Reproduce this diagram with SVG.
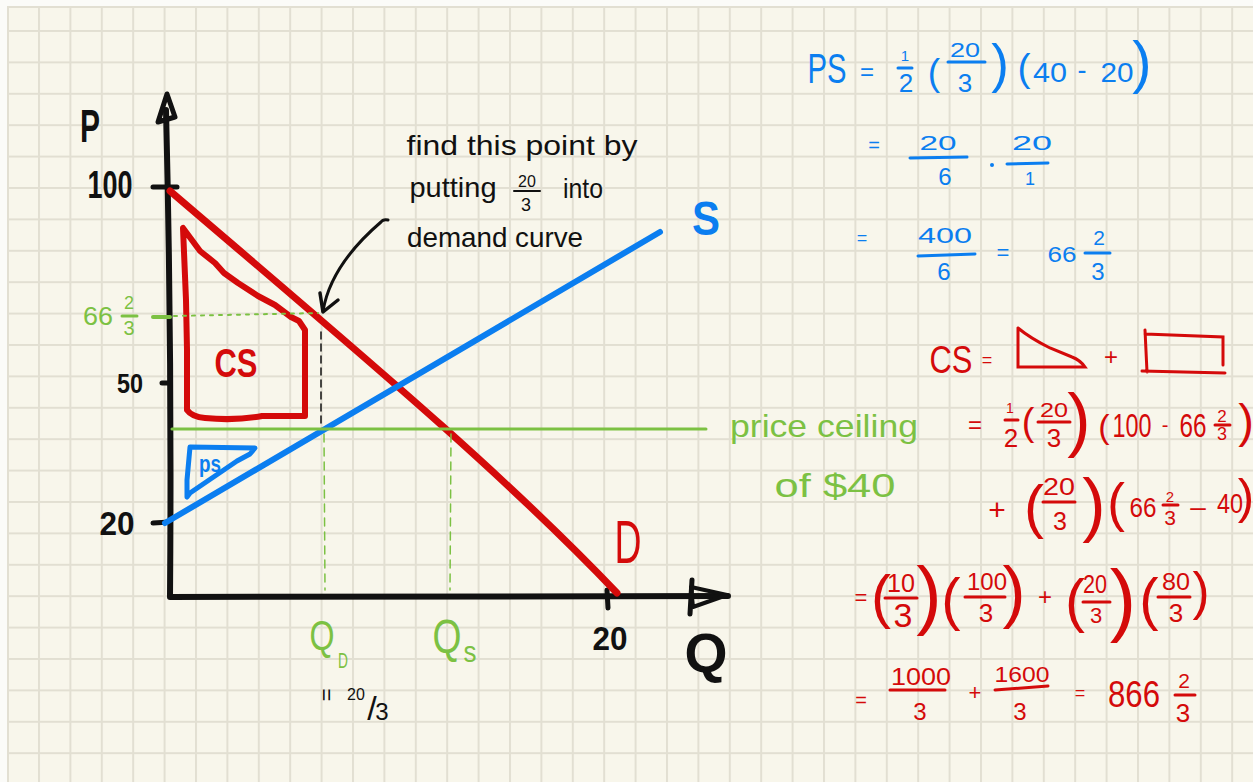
<svg xmlns="http://www.w3.org/2000/svg" width="1253" height="782" viewBox="0 0 1253 782">
<defs>
<pattern id="grid" x="38" y="30" width="31.4" height="31.4" patternUnits="userSpaceOnUse">
<path d="M0 1H31.4M1 0V31.4" stroke="#e2dfd2" stroke-width="2" fill="none"/>
</pattern>
<style>
text{font-family:"Liberation Sans",Arial,sans-serif;text-anchor:middle}
.r{fill:#d40a0a}.b{fill:#0b7ef0}.g{fill:#7cc143}.k{fill:#111}
.bd{font-weight:bold}
.rl{stroke:#d40a0a;stroke-width:3;stroke-linecap:round;fill:none}
.bl{stroke:#0b7ef0;stroke-width:3;stroke-linecap:round;fill:none}
.gl{stroke:#7cc143;stroke-linecap:round;fill:none}
.kl{stroke:#111;stroke-linecap:round;stroke-linejoin:round;fill:none}
</style>
</defs>
<rect width="1253" height="782" fill="#fbfbf8"/>
<rect x="7" y="6" width="1246" height="776" fill="#f8f6eb"/>
<rect x="7" y="6" width="1246" height="776" fill="url(#grid)"/>
<path d="M7 7H1253M8 6V782" stroke="#e2dfd2" stroke-width="2"/>

<g id="axes">
<path class="kl" d="M166,110 Q172,350 170,597 L728,596" stroke-width="6"/>
<path class="kl" d="M158,122 L167,94 L175,117 Z" stroke-width="5" fill="#111"/>
<path class="kl" d="M727,595 L691,587 L693,607 Z" stroke-width="4" fill="#111"/>
<path class="kl" d="M692,580 L690,614" stroke-width="5"/>
<path class="kl" d="M153,187 L177,187 M162,383 L168,383 M153,523 L170,522 M607,590 L608,608" stroke-width="5"/>
<text class="k bd" x="90" y="142" font-size="46" textLength="20" lengthAdjust="spacingAndGlyphs">P</text>
<text class="k bd" x="110" y="198" font-size="38" textLength="45" lengthAdjust="spacingAndGlyphs">100</text>
<text class="k bd" x="130" y="393" font-size="28" textLength="26" lengthAdjust="spacingAndGlyphs">50</text>
<text class="k bd" x="117" y="535" font-size="34" textLength="35" lengthAdjust="spacingAndGlyphs">20</text>
<text class="k bd" x="610" y="650" font-size="34" textLength="35" lengthAdjust="spacingAndGlyphs">20</text>
<text class="k bd" x="706" y="672" font-size="56" textLength="43" lengthAdjust="spacingAndGlyphs">Q</text>
</g>

<g id="cs-area">
<path d="M183,228 L186,300 L187,350 L187,410 Q192,417 205,418 Q235,421 262,416 L305,416 L305,330 L299,321 L291,317 L275,305 L258,296 L238,283 L224,273 L215,263 L200,251 Z" stroke="#d40a0a" stroke-width="6" stroke-linejoin="round" fill="none"/>
<text class="r bd" x="236" y="377" font-size="40" textLength="43" lengthAdjust="spacingAndGlyphs">CS</text>
</g>

<g id="ps-area">
<path d="M190,447 L255,448 L250,454 L237,461 L190,493 L187,497 L187,480 Z" stroke="#0b7ef0" stroke-width="5" stroke-linejoin="round" fill="none"/>
<text class="b bd" x="210" y="472" font-size="24" textLength="22" lengthAdjust="spacingAndGlyphs">ps</text>
</g>

<g id="demand">
<path d="M170,191 C350,345 500,470 617,593" stroke="#d40a0a" stroke-width="7" stroke-linecap="round" fill="none"/>
<text class="r" x="628" y="563" font-size="62" textLength="27" lengthAdjust="spacingAndGlyphs">D</text>
</g>

<g id="supply">
<path d="M165,523 L660,232" stroke="#0b7ef0" stroke-width="6" stroke-linecap="round" fill="none"/>
<text class="b bd" x="706" y="235" font-size="49" textLength="28" lengthAdjust="spacingAndGlyphs">S</text>
</g>

<g id="price-ceiling">
<path class="gl" d="M172,429 L706,429" stroke-width="3"/>
<path class="gl" d="M153,317 L170,317" stroke-width="4"/>
<path class="gl" d="M174,316 L318,313" stroke-width="2" stroke-dasharray="3 6"/>
<text class="g" x="98" y="325" font-size="25" textLength="30" lengthAdjust="spacingAndGlyphs">66</text>
<text class="g" x="129" y="309" font-size="18">2</text>
<path class="gl" d="M122,316 L137,316" stroke-width="3"/>
<text class="g" x="129" y="335" font-size="20">3</text>
<text class="g" x="824" y="437" font-size="32" textLength="188" lengthAdjust="spacingAndGlyphs">price ceiling</text>
<text class="g" x="835" y="497" font-size="33" textLength="121" lengthAdjust="spacingAndGlyphs">of $40</text>
</g>

<g id="quantities">
<path class="gl" d="M324,434 L325,590 M451,434 L450,590" stroke-width="1.5" stroke-dasharray="8 6"/>
<path class="kl" d="M321,332 L321,424" stroke-width="1.5" stroke-dasharray="7 5"/>
<text class="g" x="322" y="650" font-size="42" textLength="25" lengthAdjust="spacingAndGlyphs">Q</text>
<text class="g" x="343" y="668" font-size="22" textLength="10" lengthAdjust="spacingAndGlyphs">D</text>
<text class="g" x="447" y="653" font-size="48" textLength="29" lengthAdjust="spacingAndGlyphs">Q</text>
<text class="g" x="470" y="662" font-size="30" textLength="13" lengthAdjust="spacingAndGlyphs">s</text>
<text class="k" x="0" y="0" font-size="22" transform="translate(326,695) rotate(90)" dy="7">=</text>
<text class="k" x="356" y="700" font-size="16">20</text>
<text class="k" x="372" y="720" font-size="34">/</text>
<text class="k" x="382" y="720" font-size="24">3</text>
</g>

<g id="annotation">
<text class="k" x="522" y="155" font-size="28" textLength="231" lengthAdjust="spacingAndGlyphs">find this point by</text>
<text class="k" x="453" y="197" font-size="28" textLength="87" lengthAdjust="spacingAndGlyphs">putting</text>
<text class="k" x="527" y="187" font-size="16">20</text>
<path class="kl" d="M514,191 L540,191" stroke-width="2"/>
<text class="k" x="526" y="211" font-size="18">3</text>
<text class="k" x="583" y="198" font-size="28" textLength="40" lengthAdjust="spacingAndGlyphs">into</text>
<text class="k" x="495" y="247" font-size="28" textLength="176" lengthAdjust="spacingAndGlyphs">demand curve</text>
</g>

<g id="connectors">
<path class="kl" d="M388,220 Q383,219 381,222 C360,240 330,270 323,311" stroke-width="3"/>
<path class="kl" d="M320,293 L323,312 L338,300" stroke-width="3.5"/>
</g>

<g id="ps-calc">
<text class="b" x="827" y="83" font-size="42" textLength="39" lengthAdjust="spacingAndGlyphs">PS</text>
<text class="b" x="867" y="80" font-size="24">=</text>
<text class="b" x="905" y="61" font-size="15">1</text>
<path class="bl" d="M898,68 L912,68"/>
<text class="b" x="906" y="92" font-size="26">2</text>
<text class="b" x="934" y="85" font-size="37">(</text>
<text class="b" x="965" y="57" font-size="20" textLength="30" lengthAdjust="spacingAndGlyphs">20</text>
<path class="bl" d="M948,62 L985,62"/>
<text class="b" x="965" y="92" font-size="26">3</text>
<text class="b" x="1000" y="82" font-size="53">)</text>
<text class="b" x="1024" y="81" font-size="39">(</text>
<text class="b" x="1050" y="82" font-size="27" textLength="34" lengthAdjust="spacingAndGlyphs">40</text>
<text class="b" x="1082" y="79" font-size="27">-</text>
<text class="b" x="1117" y="82" font-size="27" textLength="33" lengthAdjust="spacingAndGlyphs">20</text>
<text class="b" x="1142" y="82" font-size="58">)</text>

<text class="b" x="874" y="152" font-size="20">=</text>
<text class="b" x="938" y="150" font-size="20" textLength="37" lengthAdjust="spacingAndGlyphs">20</text>
<path class="bl" d="M910,158 L967,157"/>
<text class="b" x="945" y="185" font-size="24">6</text>
<circle cx="992" cy="165" r="2" fill="#0b7ef0"/>
<text class="b" x="1032" y="150" font-size="20" textLength="40" lengthAdjust="spacingAndGlyphs">20</text>
<path class="bl" d="M1007,164 L1048,163"/>
<text class="b" x="1030" y="185" font-size="18">1</text>

<text class="b" x="862" y="244" font-size="18">=</text>
<text class="b" x="945" y="243" font-size="22" textLength="54" lengthAdjust="spacingAndGlyphs">400</text>
<path class="bl" d="M918,256 L975,254"/>
<text class="b" x="944" y="280" font-size="24">6</text>
<text class="b" x="1003" y="260" font-size="22">=</text>
<text class="b" x="1062" y="262" font-size="22" textLength="29" lengthAdjust="spacingAndGlyphs">66</text>
<text class="b" x="1099" y="245" font-size="21">2</text>
<path class="bl" d="M1085,253 L1110,253"/>
<text class="b" x="1098" y="280" font-size="24">3</text>
</g>

<g id="cs-calc">
<text class="r" x="951" y="373" font-size="39" textLength="43" lengthAdjust="spacingAndGlyphs">CS</text>
<text class="r" x="987" y="366" font-size="18">=</text>
<path class="rl" d="M1018,328 L1018,367 L1085,367 Q1080,360 1072,357 L1050,348 Q1030,338 1018,328"/>
<text class="r" x="1111" y="365" font-size="24">+</text>
<path class="rl" d="M1145,330 L1147,372 M1145,334 L1223,337 L1223,365 M1142,371 L1225,373"/>

<text class="r" x="975" y="433" font-size="24">=</text>
<text class="r" x="1010" y="413" font-size="14">1</text>
<path class="rl" d="M1005,420 L1018,420"/>
<text class="r" x="1011" y="447" font-size="26">2</text>
<text class="r" x="1028" y="435" font-size="38">(</text>
<text class="r" x="1054" y="417" font-size="20" textLength="28" lengthAdjust="spacingAndGlyphs">20</text>
<path class="rl" d="M1038,422 L1070,422"/>
<text class="r" x="1054" y="447" font-size="26">3</text>
<text class="r" x="1079" y="443" font-size="70">)</text>
<text class="r" x="1104" y="438" font-size="34">(</text>
<text class="r" x="1132" y="437" font-size="33" textLength="39" lengthAdjust="spacingAndGlyphs">100</text>
<text class="r" x="1165" y="432" font-size="20">-</text>
<text class="r" x="1193" y="437" font-size="33" textLength="27" lengthAdjust="spacingAndGlyphs">66</text>
<text class="r" x="1222" y="422" font-size="17">2</text>
<path class="rl" d="M1215,425 L1230,425"/>
<text class="r" x="1222" y="440" font-size="18">3</text>
<text class="r" x="1246" y="437" font-size="47">)</text>

<text class="r" x="997" y="520" font-size="30">+</text>
<text class="r" x="1034" y="527" font-size="60">(</text>
<text class="r" x="1059" y="495" font-size="24" textLength="32" lengthAdjust="spacingAndGlyphs">20</text>
<path class="rl" d="M1043,502 L1075,502"/>
<text class="r" x="1060" y="530" font-size="25">3</text>
<text class="r" x="1094" y="528" font-size="70">)</text>
<text class="r" x="1116" y="521" font-size="53">(</text>
<text class="r" x="1143" y="517" font-size="28" textLength="27" lengthAdjust="spacingAndGlyphs">66</text>
<text class="r" x="1170" y="502" font-size="15">2</text>
<path class="rl" d="M1163,505 L1178,505"/>
<text class="r" x="1170" y="525" font-size="21">3</text>
<text class="r" x="1198" y="516" font-size="28">–</text>
<text class="r" x="1230" y="513" font-size="28" textLength="26" lengthAdjust="spacingAndGlyphs">40</text>
<text class="r" x="1246" y="513" font-size="49">)</text>

<text class="r" x="861" y="605" font-size="22">=</text>
<text class="r" x="881" y="617" font-size="60">(</text>
<text class="r" x="901" y="592" font-size="26" textLength="28" lengthAdjust="spacingAndGlyphs">10</text>
<path class="rl" d="M885,598 L917,598"/>
<text class="r" x="903" y="627" font-size="34">3</text>
<text class="r" x="929" y="620" font-size="76">)</text>
<text class="r" x="951" y="619" font-size="58">(</text>
<text class="r" x="987" y="590" font-size="24" textLength="40" lengthAdjust="spacingAndGlyphs">100</text>
<path class="rl" d="M965,597 L1005,597"/>
<text class="r" x="986" y="622" font-size="26">3</text>
<text class="r" x="1014" y="615" font-size="69">)</text>
<text class="r" x="1045" y="605" font-size="24">+</text>
<text class="r" x="1075" y="621" font-size="60">(</text>
<text class="r" x="1095" y="593" font-size="25" textLength="24" lengthAdjust="spacingAndGlyphs">20</text>
<path class="rl" d="M1083,602 L1110,602"/>
<text class="r" x="1096" y="623" font-size="22">3</text>
<text class="r" x="1123" y="626" font-size="79">)</text>
<text class="r" x="1149" y="619" font-size="58">(</text>
<text class="r" x="1176" y="590" font-size="24" textLength="28" lengthAdjust="spacingAndGlyphs">80</text>
<path class="rl" d="M1158,597 L1190,597"/>
<text class="r" x="1176" y="622" font-size="26">3</text>
<text class="r" x="1201" y="609" font-size="51">)</text>

<text class="r" x="861" y="707" font-size="20">=</text>
<text class="r" x="921" y="685" font-size="24" textLength="60" lengthAdjust="spacingAndGlyphs">1000</text>
<path class="rl" d="M890,690 L945,690"/>
<text class="r" x="920" y="720" font-size="24">3</text>
<text class="r" x="975" y="700" font-size="22">+</text>
<text class="r" x="1022" y="682" font-size="22" textLength="55" lengthAdjust="spacingAndGlyphs">1600</text>
<path class="rl" d="M995,690 L1048,686"/>
<text class="r" x="1020" y="720" font-size="24">3</text>
<text class="r" x="1080" y="699" font-size="18">=</text>
<text class="r" x="1134" y="707" font-size="37" textLength="52" lengthAdjust="spacingAndGlyphs">866</text>
<text class="r" x="1184" y="688" font-size="21">2</text>
<path class="rl" d="M1175,695 L1195,695"/>
<text class="r" x="1183" y="722" font-size="26">3</text>
</g>
</svg>
